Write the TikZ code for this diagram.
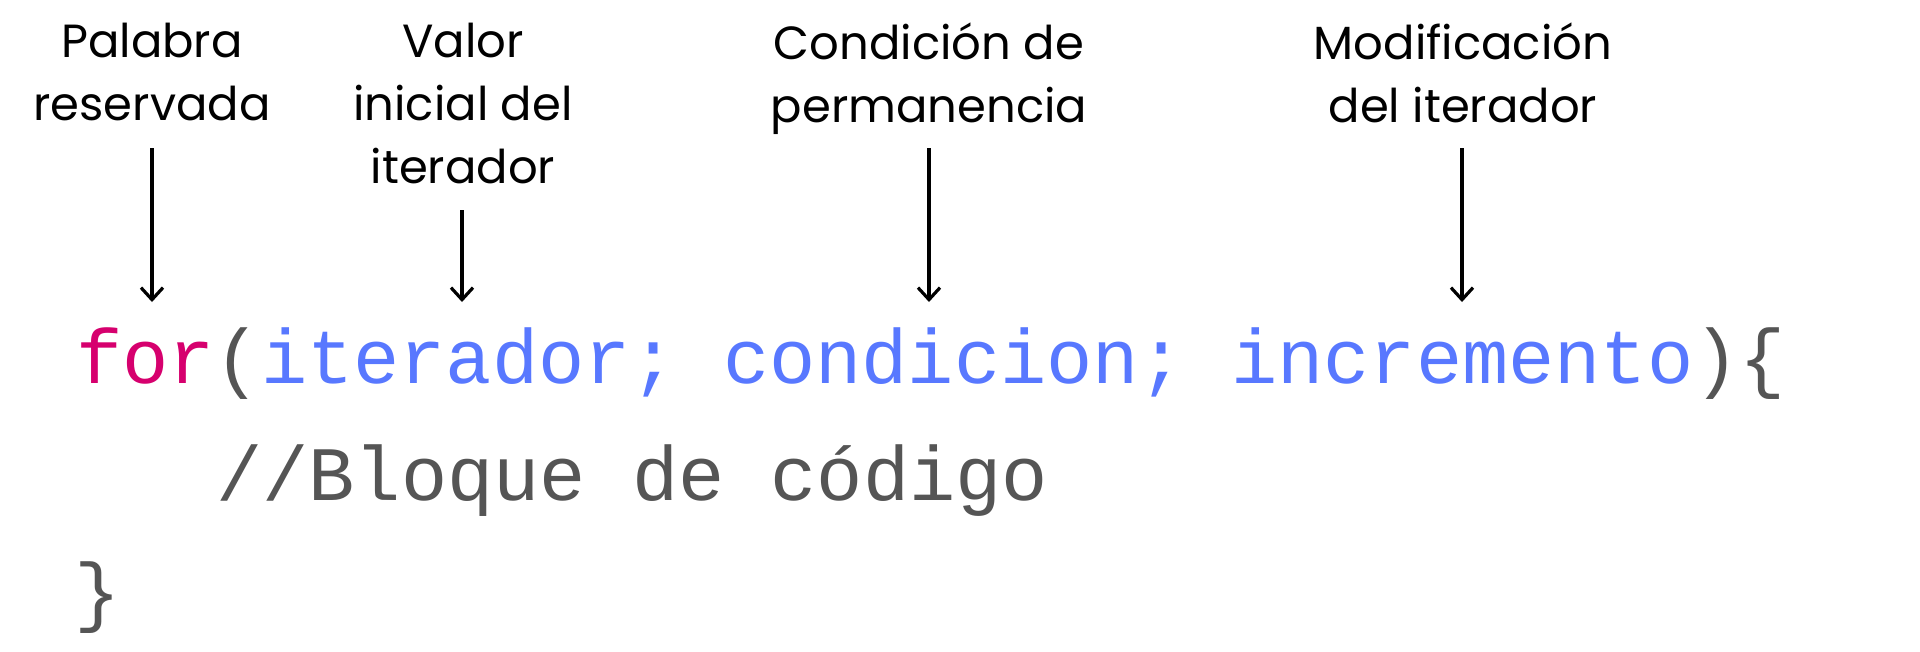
\documentclass[tikz,border=0pt]{standalone}
\usepackage{fontspec}
\setmainfont{Poppins}
\setmonofont{Liberation Mono}
\usetikzlibrary{arrows.meta}
\definecolor{kwmag}{HTML}{D6006E}
\definecolor{argblue}{HTML}{5878FF}
\definecolor{codegray}{HTML}{555555}
\tikzset{
  lbl/.style={align=center, inner sep=0pt, anchor=north, font=\fontsize{46.5}{63}\selectfont, text=black},
  codeline/.style={anchor=base west, inner sep=0pt, font=\ttfamily\fontsize{77}{77}\selectfont, text=codegray},
  arr/.style={line width=3.2pt, -{Straight Barb[length=12pt,width=22pt,line width=3.2pt]}}
}
\begin{document}
\begin{tikzpicture}[x=1pt,y=-1pt]
\useasboundingbox[fill=white] (0,0) rectangle (1920,651);
% labels
\node[lbl] (lab1) at (152,23) {Palabra\\reservada};
\node[lbl] (lab2) at (463,23) {Valor\\inicial del\\iterador};
\node[lbl] (lab3) at (929,23) {Condición de\\permanencia};
\node[lbl] (lab4) at (1463,23) {Modificación\\del iterador};
% code
\node[codeline] (code1) at (76,383) {\textcolor{kwmag}{for}(\textcolor{argblue}{iterador; condicion; incremento})\{};
\node[codeline] (code2) at (216,500) {//Bloque de código};
\node[codeline] (code3) at (74,617) {\}};
% arrow ends
\coordinate (s1) at (152,148); \coordinate (t1) at (152,302);
\coordinate (s2) at (462,210); \coordinate (t2) at (462,302);
\coordinate (s3) at (929,148); \coordinate (t3) at (929,302);
\coordinate (s4) at (1462,148); \coordinate (t4) at (1462,302);
\draw[arr] (s1) -- (t1);
\draw[arr] (s2) -- (t2);
\draw[arr] (s3) -- (t3);
\draw[arr] (s4) -- (t4);
\end{tikzpicture}
\end{document}
